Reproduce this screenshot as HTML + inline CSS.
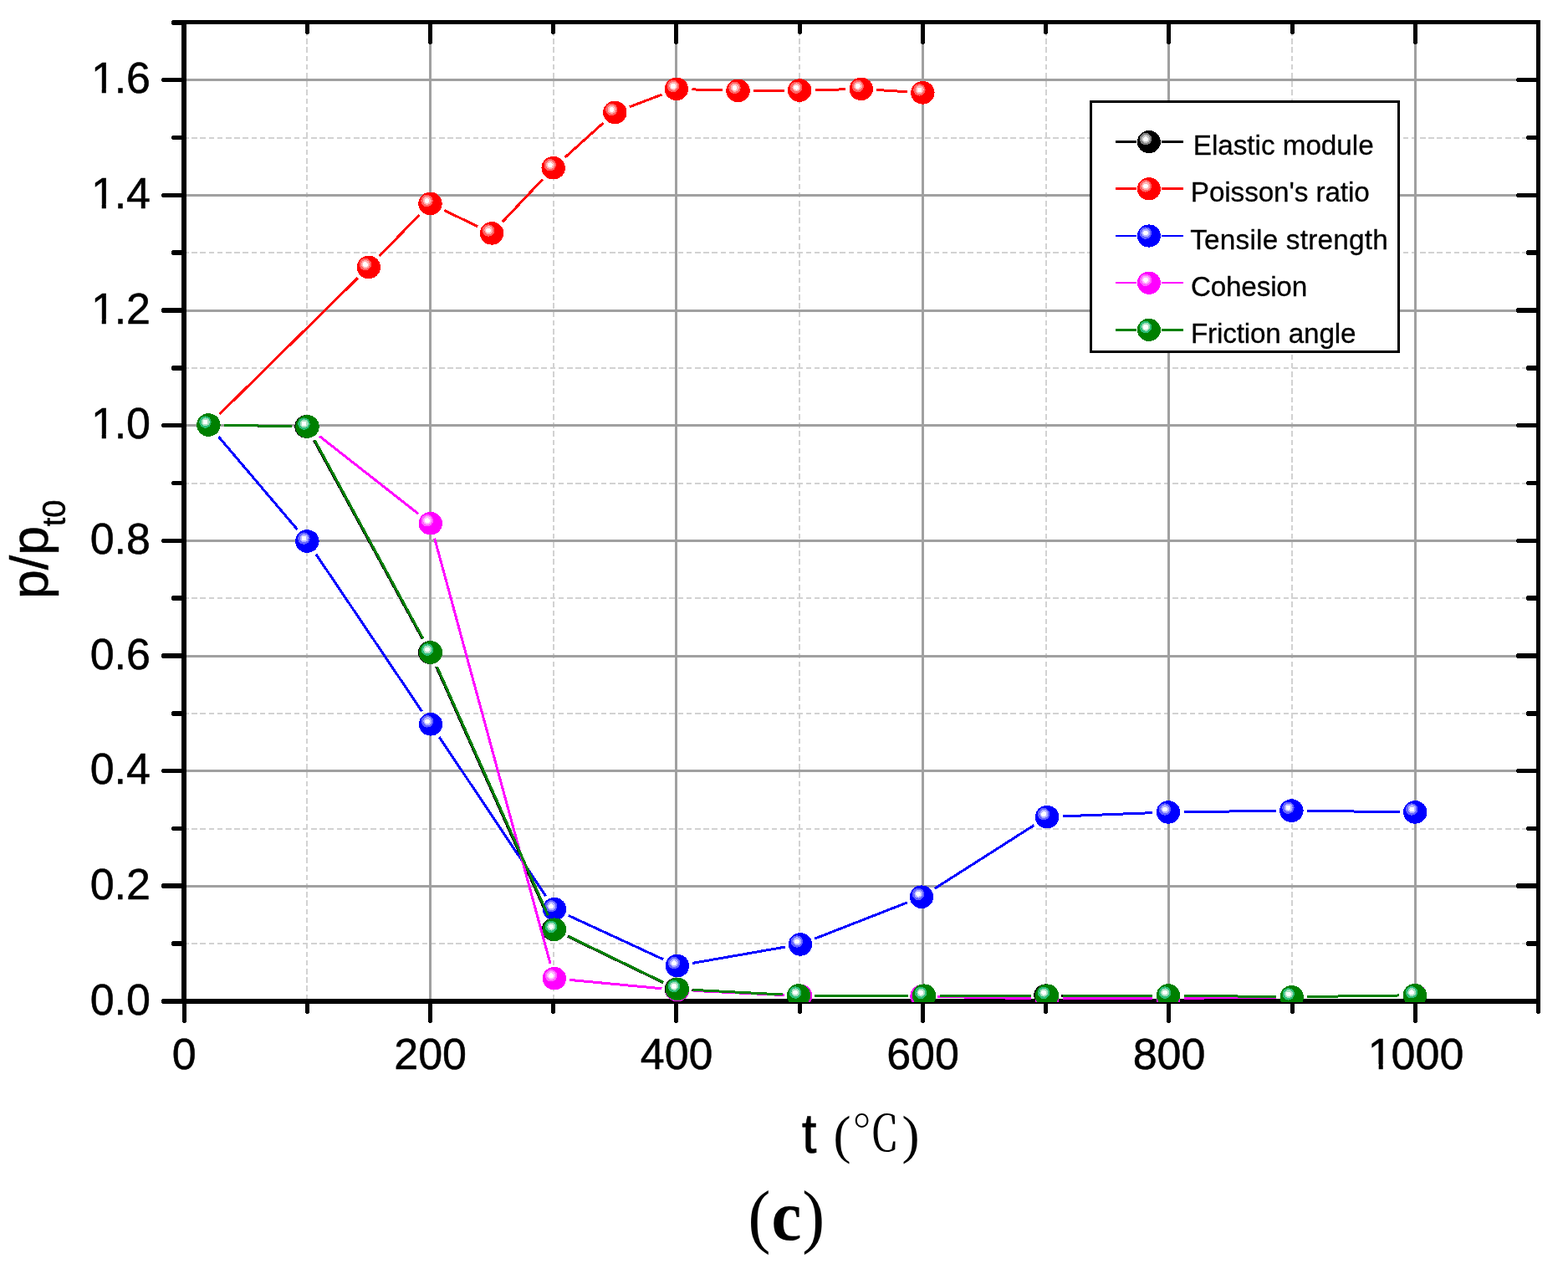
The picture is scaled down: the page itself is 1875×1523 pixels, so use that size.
<!DOCTYPE html>
<html lang="en"><head><meta charset="utf-8"><title>p/pt0 versus t (c)</title>
<style>html,body{margin:0;padding:0;background:#ffffff;}body{width:1875px;height:1523px;overflow:hidden;}svg{display:block;}text{font-family:"Liberation Sans",sans-serif;fill:#000;}.tk{font-size:52px;stroke:#000;stroke-width:0.5px;}.lg{font-size:33.3px;stroke:#000;stroke-width:0.3px;}.ax{stroke:#000;stroke-width:0.5px;}.ser{font-family:"Liberation Serif","Noto Serif CJK SC",serif;}</style></head><body>
<svg width="1875" height="1523" viewBox="0 0 1875 1523">
<rect x="0" y="0" width="1875" height="1523" fill="#ffffff"/>
<defs><clipPath id="plotclip"><rect x="220" y="26" width="1620" height="1172"/></clipPath></defs>
<g shape-rendering="crispEdges" fill="none"><g stroke="#d2d2d2" stroke-width="2" stroke-dasharray="6.6 3.6"><line x1="367" y1="25.7" x2="367" y2="1194"/><line x1="662" y1="25.7" x2="662" y2="1194"/><line x1="956" y1="25.7" x2="956" y2="1194"/><line x1="1251" y1="25.7" x2="1251" y2="1194"/><line x1="1545" y1="25.7" x2="1545" y2="1194"/><line x1="219" y1="1128" x2="1837" y2="1128"/><line x1="219" y1="991" x2="1837" y2="991"/><line x1="219" y1="853" x2="1837" y2="853"/><line x1="219" y1="715" x2="1837" y2="715"/><line x1="219" y1="578" x2="1837" y2="578"/><line x1="219" y1="440" x2="1837" y2="440"/><line x1="219" y1="302" x2="1837" y2="302"/><line x1="219" y1="165" x2="1837" y2="165"/></g><g stroke="#a0a0a0" stroke-width="3"><line x1="514.5" y1="29" x2="514.5" y2="1194"/><line x1="808.5" y1="29" x2="808.5" y2="1194"/><line x1="1103.5" y1="29" x2="1103.5" y2="1194"/><line x1="1397.5" y1="29" x2="1397.5" y2="1194"/><line x1="1692.5" y1="29" x2="1692.5" y2="1194"/><line x1="223" y1="1059.5" x2="1837" y2="1059.5"/><line x1="223" y1="921.5" x2="1837" y2="921.5"/><line x1="223" y1="784.5" x2="1837" y2="784.5"/><line x1="223" y1="646.5" x2="1837" y2="646.5"/><line x1="223" y1="508.5" x2="1837" y2="508.5"/><line x1="223" y1="371.5" x2="1837" y2="371.5"/><line x1="223" y1="233.5" x2="1837" y2="233.5"/><line x1="223" y1="95.5" x2="1837" y2="95.5"/></g></g>
<g shape-rendering="crispEdges" fill="#000000"><rect x="217" y="24" width="6" height="1176"/><rect x="1837" y="24" width="5" height="1176"/><rect x="217" y="24" width="1625" height="5"/><rect x="217" y="1194" width="1625" height="6"/><rect x="194" y="1194" width="25" height="6"/><rect x="193" y="1195" width="2" height="4"/><rect x="206" y="1125" width="13" height="6"/><rect x="205" y="1126" width="2" height="4"/><rect x="1826" y="1125" width="13" height="6"/><rect x="1825" y="1126" width="2" height="4"/><rect x="194" y="1056" width="25" height="6"/><rect x="193" y="1057" width="2" height="4"/><rect x="1814" y="1056" width="25" height="6"/><rect x="1813" y="1057" width="2" height="4"/><rect x="206" y="988" width="13" height="5"/><rect x="205" y="989" width="2" height="3"/><rect x="1826" y="988" width="13" height="5"/><rect x="1825" y="989" width="2" height="3"/><rect x="194" y="919" width="25" height="5"/><rect x="193" y="920" width="2" height="3"/><rect x="1814" y="919" width="25" height="5"/><rect x="1813" y="920" width="2" height="3"/><rect x="206" y="850" width="13" height="6"/><rect x="205" y="851" width="2" height="4"/><rect x="1826" y="850" width="13" height="6"/><rect x="1825" y="851" width="2" height="4"/><rect x="194" y="781" width="25" height="6"/><rect x="193" y="782" width="2" height="4"/><rect x="1814" y="781" width="25" height="6"/><rect x="1813" y="782" width="2" height="4"/><rect x="206" y="712" width="13" height="6"/><rect x="205" y="713" width="2" height="4"/><rect x="1826" y="712" width="13" height="6"/><rect x="1825" y="713" width="2" height="4"/><rect x="194" y="644" width="25" height="5"/><rect x="193" y="645" width="2" height="3"/><rect x="1814" y="644" width="25" height="5"/><rect x="1813" y="645" width="2" height="3"/><rect x="206" y="575" width="13" height="5"/><rect x="205" y="576" width="2" height="3"/><rect x="1826" y="575" width="13" height="5"/><rect x="1825" y="576" width="2" height="3"/><rect x="194" y="506" width="25" height="5"/><rect x="193" y="507" width="2" height="3"/><rect x="1814" y="506" width="25" height="5"/><rect x="1813" y="507" width="2" height="3"/><rect x="206" y="437" width="13" height="6"/><rect x="205" y="438" width="2" height="4"/><rect x="1826" y="437" width="13" height="6"/><rect x="1825" y="438" width="2" height="4"/><rect x="194" y="368" width="25" height="6"/><rect x="193" y="369" width="2" height="4"/><rect x="1814" y="368" width="25" height="6"/><rect x="1813" y="369" width="2" height="4"/><rect x="206" y="299" width="13" height="6"/><rect x="205" y="300" width="2" height="4"/><rect x="1826" y="299" width="13" height="6"/><rect x="1825" y="300" width="2" height="4"/><rect x="194" y="231" width="25" height="5"/><rect x="193" y="232" width="2" height="3"/><rect x="1814" y="231" width="25" height="5"/><rect x="1813" y="232" width="2" height="3"/><rect x="206" y="162" width="13" height="5"/><rect x="205" y="163" width="2" height="3"/><rect x="1826" y="162" width="13" height="5"/><rect x="1825" y="163" width="2" height="3"/><rect x="194" y="93" width="25" height="5"/><rect x="193" y="94" width="2" height="3"/><rect x="1814" y="93" width="25" height="5"/><rect x="1813" y="94" width="2" height="3"/><rect x="206" y="24" width="13" height="6"/><rect x="205" y="25" width="2" height="4"/><rect x="218" y="1198" width="5" height="24"/><rect x="219" y="1198" width="3" height="25"/><rect x="365" y="1198" width="5" height="13"/><rect x="366" y="1198" width="3" height="14"/><rect x="365" y="27" width="5" height="13"/><rect x="366" y="27" width="3" height="14"/><rect x="512" y="1198" width="5" height="24"/><rect x="513" y="1198" width="3" height="25"/><rect x="512" y="27" width="5" height="25"/><rect x="513" y="27" width="3" height="26"/><rect x="659" y="1198" width="5" height="13"/><rect x="660" y="1198" width="3" height="14"/><rect x="659" y="27" width="5" height="13"/><rect x="660" y="27" width="3" height="14"/><rect x="806" y="1198" width="5" height="24"/><rect x="807" y="1198" width="3" height="25"/><rect x="806" y="27" width="5" height="25"/><rect x="807" y="27" width="3" height="26"/><rect x="954" y="1198" width="5" height="13"/><rect x="955" y="1198" width="3" height="14"/><rect x="954" y="27" width="5" height="13"/><rect x="955" y="27" width="3" height="14"/><rect x="1101" y="1198" width="5" height="24"/><rect x="1102" y="1198" width="3" height="25"/><rect x="1101" y="27" width="5" height="25"/><rect x="1102" y="27" width="3" height="26"/><rect x="1248" y="1198" width="5" height="13"/><rect x="1249" y="1198" width="3" height="14"/><rect x="1248" y="27" width="5" height="13"/><rect x="1249" y="27" width="3" height="14"/><rect x="1395" y="1198" width="5" height="24"/><rect x="1396" y="1198" width="3" height="25"/><rect x="1395" y="27" width="5" height="25"/><rect x="1396" y="27" width="3" height="26"/><rect x="1543" y="1198" width="5" height="13"/><rect x="1544" y="1198" width="3" height="14"/><rect x="1543" y="27" width="5" height="13"/><rect x="1544" y="27" width="3" height="14"/><rect x="1690" y="1198" width="5" height="24"/><rect x="1691" y="1198" width="3" height="25"/><rect x="1690" y="27" width="5" height="25"/><rect x="1691" y="27" width="3" height="26"/><rect x="1837" y="1198" width="5" height="13"/><rect x="1838" y="1198" width="3" height="14"/></g>
<g clip-path="url(#plotclip)" shape-rendering="crispEdges"><path d="M268.05 508.32L347.9 509.68M375.42 526.32L505.18 763.68M521.68 796.99L654.32 1094.21M678.64 1119.31L792.16 1174.29M827.47 1183.37L936.48 1189.03M973.65 1190.02L1086.47 1190.18M1123.67 1190.2L1231.8 1190.2M1269 1190.17L1378.4 1190.03M1415.6 1190.23L1526.1 1191.57M1563.3 1191.53L1673.35 1189.97" stroke="#000000" stroke-width="3" fill="none"/><ellipse cx="249.45" cy="508" rx="14.2" ry="13.8" fill="#000000"/><circle cx="245.45" cy="504.6" r="7.2" fill="#808080"/><circle cx="245.75" cy="504.4" r="5" fill="#c4c4c4"/><circle cx="245.55" cy="504.6" r="2.9" fill="#ffffff"/><ellipse cx="366.5" cy="510" rx="14.2" ry="13.8" fill="#000000"/><circle cx="362.5" cy="506.6" r="7.2" fill="#808080"/><circle cx="362.8" cy="506.4" r="5" fill="#c4c4c4"/><circle cx="362.6" cy="506.6" r="2.9" fill="#ffffff"/><ellipse cx="514.1" cy="780" rx="14.2" ry="13.8" fill="#000000"/><circle cx="510.1" cy="776.6" r="7.2" fill="#808080"/><circle cx="510.4" cy="776.4" r="5" fill="#c4c4c4"/><circle cx="510.2" cy="776.6" r="2.9" fill="#ffffff"/><ellipse cx="661.9" cy="1111.2" rx="14.2" ry="13.8" fill="#000000"/><circle cx="657.9" cy="1107.8" r="7.2" fill="#808080"/><circle cx="658.2" cy="1107.6" r="5" fill="#c4c4c4"/><circle cx="658" cy="1107.8" r="2.9" fill="#ffffff"/><ellipse cx="808.9" cy="1182.4" rx="14.2" ry="13.8" fill="#000000"/><circle cx="804.9" cy="1179" r="7.2" fill="#808080"/><circle cx="805.2" cy="1178.8" r="5" fill="#c4c4c4"/><circle cx="805" cy="1179" r="2.9" fill="#ffffff"/><ellipse cx="955.05" cy="1190" rx="14.2" ry="13.8" fill="#000000"/><circle cx="951.05" cy="1186.6" r="7.2" fill="#808080"/><circle cx="951.35" cy="1186.4" r="5" fill="#c4c4c4"/><circle cx="951.15" cy="1186.6" r="2.9" fill="#ffffff"/><ellipse cx="1105.07" cy="1190.2" rx="14.2" ry="13.8" fill="#000000"/><circle cx="1101.07" cy="1186.8" r="7.2" fill="#808080"/><circle cx="1101.37" cy="1186.6" r="5" fill="#c4c4c4"/><circle cx="1101.17" cy="1186.8" r="2.9" fill="#ffffff"/><ellipse cx="1250.4" cy="1190.2" rx="14.2" ry="13.8" fill="#000000"/><circle cx="1246.4" cy="1186.8" r="7.2" fill="#808080"/><circle cx="1246.7" cy="1186.6" r="5" fill="#c4c4c4"/><circle cx="1246.5" cy="1186.8" r="2.9" fill="#ffffff"/><ellipse cx="1397" cy="1190" rx="14.2" ry="13.8" fill="#000000"/><circle cx="1393" cy="1186.6" r="7.2" fill="#808080"/><circle cx="1393.3" cy="1186.4" r="5" fill="#c4c4c4"/><circle cx="1393.1" cy="1186.6" r="2.9" fill="#ffffff"/><ellipse cx="1544.7" cy="1191.8" rx="14.2" ry="13.8" fill="#000000"/><circle cx="1540.7" cy="1188.4" r="7.2" fill="#808080"/><circle cx="1541" cy="1188.2" r="5" fill="#c4c4c4"/><circle cx="1540.8" cy="1188.4" r="2.9" fill="#ffffff"/><ellipse cx="1691.95" cy="1189.7" rx="14.2" ry="13.8" fill="#000000"/><circle cx="1687.95" cy="1186.3" r="7.2" fill="#808080"/><circle cx="1688.25" cy="1186.1" r="5" fill="#c4c4c4"/><circle cx="1688.05" cy="1186.3" r="2.9" fill="#ffffff"/><path d="M262.7 494.95L427.59 332.52M453.77 306.1L501.52 256.76M531.21 251.46L571.31 270.78M600.82 265.31L648.93 214.24M675.51 188.26L721.47 146.9M752.68 127.83L791.53 113M827.5 106.88L863.93 107.86M901.12 108.3L937.54 108.16M974.73 107.66L1011.16 106.8M1048.32 107.5L1084.79 109.71" stroke="#ff0000" stroke-width="3" fill="none"/><ellipse cx="249.45" cy="508" rx="14.2" ry="13.8" fill="#ff0000"/><circle cx="245.45" cy="504.6" r="7.2" fill="#ff6464"/><circle cx="245.75" cy="504.4" r="5" fill="#ffb4b4"/><circle cx="245.55" cy="504.6" r="2.9" fill="#ffffff"/><ellipse cx="440.84" cy="319.47" rx="14.2" ry="13.8" fill="#ff0000"/><circle cx="436.84" cy="316.07" r="7.2" fill="#ff6464"/><circle cx="437.14" cy="315.87" r="5" fill="#ffb4b4"/><circle cx="436.94" cy="316.07" r="2.9" fill="#ffffff"/><ellipse cx="514.45" cy="243.39" rx="14.2" ry="13.8" fill="#ff0000"/><circle cx="510.45" cy="239.99" r="7.2" fill="#ff6464"/><circle cx="510.75" cy="239.79" r="5" fill="#ffb4b4"/><circle cx="510.55" cy="239.99" r="2.9" fill="#ffffff"/><ellipse cx="588.07" cy="278.85" rx="14.2" ry="13.8" fill="#ff0000"/><circle cx="584.07" cy="275.45" r="7.2" fill="#ff6464"/><circle cx="584.37" cy="275.25" r="5" fill="#ffb4b4"/><circle cx="584.17" cy="275.45" r="2.9" fill="#ffffff"/><ellipse cx="661.68" cy="200.7" rx="14.2" ry="13.8" fill="#ff0000"/><circle cx="657.68" cy="197.3" r="7.2" fill="#ff6464"/><circle cx="657.98" cy="197.1" r="5" fill="#ffb4b4"/><circle cx="657.78" cy="197.3" r="2.9" fill="#ffffff"/><ellipse cx="735.3" cy="134.46" rx="14.2" ry="13.8" fill="#ff0000"/><circle cx="731.3" cy="131.06" r="7.2" fill="#ff6464"/><circle cx="731.6" cy="130.86" r="5" fill="#ffb4b4"/><circle cx="731.4" cy="131.06" r="2.9" fill="#ffffff"/><ellipse cx="808.91" cy="106.37" rx="14.2" ry="13.8" fill="#ff0000"/><circle cx="804.91" cy="102.97" r="7.2" fill="#ff6464"/><circle cx="805.21" cy="102.77" r="5" fill="#ffb4b4"/><circle cx="805.01" cy="102.97" r="2.9" fill="#ffffff"/><ellipse cx="882.52" cy="108.37" rx="14.2" ry="13.8" fill="#ff0000"/><circle cx="878.52" cy="104.97" r="7.2" fill="#ff6464"/><circle cx="878.82" cy="104.77" r="5" fill="#ffb4b4"/><circle cx="878.62" cy="104.97" r="2.9" fill="#ffffff"/><ellipse cx="956.14" cy="108.09" rx="14.2" ry="13.8" fill="#ff0000"/><circle cx="952.14" cy="104.69" r="7.2" fill="#ff6464"/><circle cx="952.44" cy="104.49" r="5" fill="#ffb4b4"/><circle cx="952.24" cy="104.69" r="2.9" fill="#ffffff"/><ellipse cx="1029.75" cy="106.37" rx="14.2" ry="13.8" fill="#ff0000"/><circle cx="1025.75" cy="102.97" r="7.2" fill="#ff6464"/><circle cx="1026.05" cy="102.77" r="5" fill="#ffb4b4"/><circle cx="1025.85" cy="102.97" r="2.9" fill="#ffffff"/><ellipse cx="1103.36" cy="110.84" rx="14.2" ry="13.8" fill="#ff0000"/><circle cx="1099.36" cy="107.44" r="7.2" fill="#ff6464"/><circle cx="1099.66" cy="107.24" r="5" fill="#ffb4b4"/><circle cx="1099.46" cy="107.44" r="2.9" fill="#ffffff"/><path d="M261.48 522.18L355.37 632.82M377.8 662.42L504.6 850.38M525.35 881.25L652.65 1071.25M679.88 1094.5L793.02 1146.8M828.22 1151.4L938.68 1132.1M974.32 1122.13L1084.73 1078.97M1117.74 1062.21L1236.41 986.59M1270.69 975.87L1378.41 971.63M1415.6 970.67L1525.8 969.33M1563 969.33L1673.6 970.67" stroke="#0000ff" stroke-width="3" fill="none"/><ellipse cx="249.45" cy="508" rx="14.2" ry="13.8" fill="#0000ff"/><circle cx="245.45" cy="504.6" r="7.2" fill="#6464ff"/><circle cx="245.75" cy="504.4" r="5" fill="#b4b4ff"/><circle cx="245.55" cy="504.6" r="2.9" fill="#ffffff"/><ellipse cx="367.4" cy="647" rx="14.2" ry="13.8" fill="#0000ff"/><circle cx="363.4" cy="643.6" r="7.2" fill="#6464ff"/><circle cx="363.7" cy="643.4" r="5" fill="#b4b4ff"/><circle cx="363.5" cy="643.6" r="2.9" fill="#ffffff"/><ellipse cx="515" cy="865.8" rx="14.2" ry="13.8" fill="#0000ff"/><circle cx="511" cy="862.4" r="7.2" fill="#6464ff"/><circle cx="511.3" cy="862.2" r="5" fill="#b4b4ff"/><circle cx="511.1" cy="862.4" r="2.9" fill="#ffffff"/><ellipse cx="663" cy="1086.7" rx="14.2" ry="13.8" fill="#0000ff"/><circle cx="659" cy="1083.3" r="7.2" fill="#6464ff"/><circle cx="659.3" cy="1083.1" r="5" fill="#b4b4ff"/><circle cx="659.1" cy="1083.3" r="2.9" fill="#ffffff"/><ellipse cx="809.9" cy="1154.6" rx="14.2" ry="13.8" fill="#0000ff"/><circle cx="805.9" cy="1151.2" r="7.2" fill="#6464ff"/><circle cx="806.2" cy="1151" r="5" fill="#b4b4ff"/><circle cx="806" cy="1151.2" r="2.9" fill="#ffffff"/><ellipse cx="957" cy="1128.9" rx="14.2" ry="13.8" fill="#0000ff"/><circle cx="953" cy="1125.5" r="7.2" fill="#6464ff"/><circle cx="953.3" cy="1125.3" r="5" fill="#b4b4ff"/><circle cx="953.1" cy="1125.5" r="2.9" fill="#ffffff"/><ellipse cx="1102.05" cy="1072.2" rx="14.2" ry="13.8" fill="#0000ff"/><circle cx="1098.05" cy="1068.8" r="7.2" fill="#6464ff"/><circle cx="1098.35" cy="1068.6" r="5" fill="#b4b4ff"/><circle cx="1098.15" cy="1068.8" r="2.9" fill="#ffffff"/><ellipse cx="1252.1" cy="976.6" rx="14.2" ry="13.8" fill="#0000ff"/><circle cx="1248.1" cy="973.2" r="7.2" fill="#6464ff"/><circle cx="1248.4" cy="973" r="5" fill="#b4b4ff"/><circle cx="1248.2" cy="973.2" r="2.9" fill="#ffffff"/><ellipse cx="1397" cy="970.9" rx="14.2" ry="13.8" fill="#0000ff"/><circle cx="1393" cy="967.5" r="7.2" fill="#6464ff"/><circle cx="1393.3" cy="967.3" r="5" fill="#b4b4ff"/><circle cx="1393.1" cy="967.5" r="2.9" fill="#ffffff"/><ellipse cx="1544.4" cy="969.1" rx="14.2" ry="13.8" fill="#0000ff"/><circle cx="1540.4" cy="965.7" r="7.2" fill="#6464ff"/><circle cx="1540.7" cy="965.5" r="5" fill="#b4b4ff"/><circle cx="1540.5" cy="965.7" r="2.9" fill="#ffffff"/><ellipse cx="1692.2" cy="970.9" rx="14.2" ry="13.8" fill="#0000ff"/><circle cx="1688.2" cy="967.5" r="7.2" fill="#6464ff"/><circle cx="1688.5" cy="967.3" r="5" fill="#b4b4ff"/><circle cx="1688.3" cy="967.5" r="2.9" fill="#ffffff"/><path d="M268.05 508.32L348.9 509.68M382.13 521.49L500.17 614.21M519.69 643.65L658.01 1151.75M681.42 1171.44L791.48 1181.76M828.58 1184.38L938.42 1189.62M975.6 1190.56L1083.9 1190.94M1121.1 1191.37L1233.4 1193.63M1270.6 1193.94L1378.4 1193.56M1415.6 1193.29L1526.1 1192.01M1563.3 1191.53L1673.4 1189.97" stroke="#ff00ff" stroke-width="3" fill="none"/><ellipse cx="249.45" cy="508" rx="14.2" ry="13.8" fill="#ff00ff"/><circle cx="245.45" cy="504.6" r="7.2" fill="#ff64ff"/><circle cx="245.75" cy="504.4" r="5" fill="#ffb4ff"/><circle cx="245.55" cy="504.6" r="2.9" fill="#ffffff"/><ellipse cx="367.5" cy="510" rx="14.2" ry="13.8" fill="#ff00ff"/><circle cx="363.5" cy="506.6" r="7.2" fill="#ff64ff"/><circle cx="363.8" cy="506.4" r="5" fill="#ffb4ff"/><circle cx="363.6" cy="506.6" r="2.9" fill="#ffffff"/><ellipse cx="514.8" cy="625.7" rx="14.2" ry="13.8" fill="#ff00ff"/><circle cx="510.8" cy="622.3" r="7.2" fill="#ff64ff"/><circle cx="511.1" cy="622.1" r="5" fill="#ffb4ff"/><circle cx="510.9" cy="622.3" r="2.9" fill="#ffffff"/><ellipse cx="662.9" cy="1169.7" rx="14.2" ry="13.8" fill="#ff00ff"/><circle cx="658.9" cy="1166.3" r="7.2" fill="#ff64ff"/><circle cx="659.2" cy="1166.1" r="5" fill="#ffb4ff"/><circle cx="659" cy="1166.3" r="2.9" fill="#ffffff"/><ellipse cx="810" cy="1183.5" rx="14.2" ry="13.8" fill="#ff00ff"/><circle cx="806" cy="1180.1" r="7.2" fill="#ff64ff"/><circle cx="806.3" cy="1179.9" r="5" fill="#ffb4ff"/><circle cx="806.1" cy="1180.1" r="2.9" fill="#ffffff"/><ellipse cx="957" cy="1190.5" rx="14.2" ry="13.8" fill="#ff00ff"/><circle cx="953" cy="1187.1" r="7.2" fill="#ff64ff"/><circle cx="953.3" cy="1186.9" r="5" fill="#ffb4ff"/><circle cx="953.1" cy="1187.1" r="2.9" fill="#ffffff"/><ellipse cx="1102.5" cy="1191" rx="14.2" ry="13.8" fill="#ff00ff"/><circle cx="1098.5" cy="1187.6" r="7.2" fill="#ff64ff"/><circle cx="1098.8" cy="1187.4" r="5" fill="#ffb4ff"/><circle cx="1098.6" cy="1187.6" r="2.9" fill="#ffffff"/><ellipse cx="1252" cy="1194" rx="14.2" ry="13.8" fill="#ff00ff"/><circle cx="1248" cy="1190.6" r="7.2" fill="#ff64ff"/><circle cx="1248.3" cy="1190.4" r="5" fill="#ffb4ff"/><circle cx="1248.1" cy="1190.6" r="2.9" fill="#ffffff"/><ellipse cx="1397" cy="1193.5" rx="14.2" ry="13.8" fill="#ff00ff"/><circle cx="1393" cy="1190.1" r="7.2" fill="#ff64ff"/><circle cx="1393.3" cy="1189.9" r="5" fill="#ffb4ff"/><circle cx="1393.1" cy="1190.1" r="2.9" fill="#ffffff"/><ellipse cx="1544.7" cy="1191.8" rx="14.2" ry="13.8" fill="#ff00ff"/><circle cx="1540.7" cy="1188.4" r="7.2" fill="#ff64ff"/><circle cx="1541" cy="1188.2" r="5" fill="#ffb4ff"/><circle cx="1540.8" cy="1188.4" r="2.9" fill="#ffffff"/><ellipse cx="1692" cy="1189.7" rx="14.2" ry="13.8" fill="#ff00ff"/><circle cx="1688" cy="1186.3" r="7.2" fill="#ff64ff"/><circle cx="1688.3" cy="1186.1" r="5" fill="#ffb4ff"/><circle cx="1688.1" cy="1186.3" r="2.9" fill="#ffffff"/><path d="M268.05 508.32L348.9 509.68M376.42 526.32L506.08 763.68M522.59 796.98L655.41 1094.22M679.74 1119.31L793.16 1174.29M828.47 1183.37L936.48 1189.03M973.65 1190.02L1086.47 1190.18M1123.67 1190.2L1233.4 1190.2M1270.6 1190.17L1378.4 1190.03M1415.6 1190.23L1526.1 1191.57M1563.3 1191.53L1673.35 1189.97" stroke="#008000" stroke-width="3" fill="none"/><ellipse cx="249.45" cy="508" rx="14.2" ry="13.8" fill="#008000"/><circle cx="245.45" cy="504.6" r="7.2" fill="#2dbe78"/><circle cx="245.75" cy="504.4" r="5" fill="#a8e0c0"/><circle cx="245.55" cy="504.6" r="2.9" fill="#ffffff"/><ellipse cx="367.5" cy="510" rx="14.2" ry="13.8" fill="#008000"/><circle cx="363.5" cy="506.6" r="7.2" fill="#2dbe78"/><circle cx="363.8" cy="506.4" r="5" fill="#a8e0c0"/><circle cx="363.6" cy="506.6" r="2.9" fill="#ffffff"/><ellipse cx="515" cy="780" rx="14.2" ry="13.8" fill="#008000"/><circle cx="511" cy="776.6" r="7.2" fill="#2dbe78"/><circle cx="511.3" cy="776.4" r="5" fill="#a8e0c0"/><circle cx="511.1" cy="776.6" r="2.9" fill="#ffffff"/><ellipse cx="663" cy="1111.2" rx="14.2" ry="13.8" fill="#008000"/><circle cx="659" cy="1107.8" r="7.2" fill="#2dbe78"/><circle cx="659.3" cy="1107.6" r="5" fill="#a8e0c0"/><circle cx="659.1" cy="1107.8" r="2.9" fill="#ffffff"/><ellipse cx="809.9" cy="1182.4" rx="14.2" ry="13.8" fill="#008000"/><circle cx="805.9" cy="1179" r="7.2" fill="#2dbe78"/><circle cx="806.2" cy="1178.8" r="5" fill="#a8e0c0"/><circle cx="806" cy="1179" r="2.9" fill="#ffffff"/><ellipse cx="955.05" cy="1190" rx="14.2" ry="13.8" fill="#008000"/><circle cx="951.05" cy="1186.6" r="7.2" fill="#2dbe78"/><circle cx="951.35" cy="1186.4" r="5" fill="#a8e0c0"/><circle cx="951.15" cy="1186.6" r="2.9" fill="#ffffff"/><ellipse cx="1105.07" cy="1190.2" rx="14.2" ry="13.8" fill="#008000"/><circle cx="1101.07" cy="1186.8" r="7.2" fill="#2dbe78"/><circle cx="1101.37" cy="1186.6" r="5" fill="#a8e0c0"/><circle cx="1101.17" cy="1186.8" r="2.9" fill="#ffffff"/><ellipse cx="1252" cy="1190.2" rx="14.2" ry="13.8" fill="#008000"/><circle cx="1248" cy="1186.8" r="7.2" fill="#2dbe78"/><circle cx="1248.3" cy="1186.6" r="5" fill="#a8e0c0"/><circle cx="1248.1" cy="1186.8" r="2.9" fill="#ffffff"/><ellipse cx="1397" cy="1190" rx="14.2" ry="13.8" fill="#008000"/><circle cx="1393" cy="1186.6" r="7.2" fill="#2dbe78"/><circle cx="1393.3" cy="1186.4" r="5" fill="#a8e0c0"/><circle cx="1393.1" cy="1186.6" r="2.9" fill="#ffffff"/><ellipse cx="1544.7" cy="1191.8" rx="14.2" ry="13.8" fill="#008000"/><circle cx="1540.7" cy="1188.4" r="7.2" fill="#2dbe78"/><circle cx="1541" cy="1188.2" r="5" fill="#a8e0c0"/><circle cx="1540.8" cy="1188.4" r="2.9" fill="#ffffff"/><ellipse cx="1691.95" cy="1189.7" rx="14.2" ry="13.8" fill="#008000"/><circle cx="1687.95" cy="1186.3" r="7.2" fill="#2dbe78"/><circle cx="1688.25" cy="1186.1" r="5" fill="#a8e0c0"/><circle cx="1688.05" cy="1186.3" r="2.9" fill="#ffffff"/></g>
<g><rect x="1304.5" y="121.5" width="368" height="299" fill="#ffffff" stroke="#000000" stroke-width="3" shape-rendering="crispEdges"/><g shape-rendering="crispEdges"><path d="M1334 169.5H1359M1389 169.5H1415" stroke="#000000" stroke-width="3" fill="none"/><ellipse cx="1373.9" cy="169.6" rx="14" ry="13.6" fill="#000000"/><circle cx="1369.9" cy="166.2" r="7.2" fill="#808080"/><circle cx="1370.2" cy="166" r="5" fill="#c4c4c4"/><circle cx="1370" cy="166.2" r="2.9" fill="#ffffff"/></g><text class="lg" x="1426.8" y="184.8" letter-spacing="-0.05">Elastic module</text><g shape-rendering="crispEdges"><path d="M1334 225.5H1359M1389 225.5H1415" stroke="#ff0000" stroke-width="3" fill="none"/><ellipse cx="1373.9" cy="225.8" rx="14" ry="13.6" fill="#ff0000"/><circle cx="1369.9" cy="222.4" r="7.2" fill="#ff6464"/><circle cx="1370.2" cy="222.2" r="5" fill="#ffb4b4"/><circle cx="1370" cy="222.4" r="2.9" fill="#ffffff"/></g><text class="lg" x="1423.8" y="241.4" letter-spacing="-0.11">Poisson&#39;s ratio</text><g shape-rendering="crispEdges"><path d="M1334 282H1359M1389 282H1415" stroke="#0000ff" stroke-width="2" fill="none"/><ellipse cx="1373.9" cy="282" rx="14" ry="13.6" fill="#0000ff"/><circle cx="1369.9" cy="278.6" r="7.2" fill="#6464ff"/><circle cx="1370.2" cy="278.4" r="5" fill="#b4b4ff"/><circle cx="1370" cy="278.6" r="2.9" fill="#ffffff"/></g><text class="lg" x="1423.2" y="297.8" letter-spacing="0.22">Tensile strength</text><g shape-rendering="crispEdges"><path d="M1334 338H1359M1389 338H1415" stroke="#ff00ff" stroke-width="2" fill="none"/><ellipse cx="1373.9" cy="338.2" rx="14" ry="13.6" fill="#ff00ff"/><circle cx="1369.9" cy="334.8" r="7.2" fill="#ff64ff"/><circle cx="1370.2" cy="334.6" r="5" fill="#ffb4ff"/><circle cx="1370" cy="334.8" r="2.9" fill="#ffffff"/></g><text class="lg" x="1423.9" y="353.6" letter-spacing="-0.2">Cohesion</text><g shape-rendering="crispEdges"><path d="M1334 394.5H1359M1389 394.5H1415" stroke="#008000" stroke-width="3" fill="none"/><ellipse cx="1373.9" cy="394.4" rx="14" ry="13.6" fill="#008000"/><circle cx="1369.9" cy="391" r="7.2" fill="#2dbe78"/><circle cx="1370.2" cy="390.8" r="5" fill="#a8e0c0"/><circle cx="1370" cy="391" r="2.9" fill="#ffffff"/></g><text class="lg" x="1423.9" y="409.6" letter-spacing="-0.17">Friction angle</text></g>
<g><text class="tk" x="107.71" y="1212.75">0.0</text><text class="tk" x="107.71" y="1075.09">0.2</text><text class="tk" x="107.71" y="937.43">0.4</text><text class="tk" x="107.71" y="799.77">0.6</text><text class="tk" x="107.71" y="662.11">0.8</text><text class="tk" x="107.71" y="524.45"><tspan dx="1.2">1</tspan><tspan dx="-1.2">.0</tspan></text><path d="M111.37 518.97H121.74V525.95H111.37ZM126.83 518.97H136.59V525.95H126.83Z" fill="#ffffff"/><text class="tk" x="107.71" y="386.79"><tspan dx="1.2">1</tspan><tspan dx="-1.2">.2</tspan></text><path d="M111.37 381.31H121.74V388.29H111.37ZM126.83 381.31H136.59V388.29H126.83Z" fill="#ffffff"/><text class="tk" x="107.71" y="249.13"><tspan dx="1.2">1</tspan><tspan dx="-1.2">.4</tspan></text><path d="M111.37 243.65H121.74V250.63H111.37ZM126.83 243.65H136.59V250.63H126.83Z" fill="#ffffff"/><text class="tk" x="107.71" y="111.47"><tspan dx="1.2">1</tspan><tspan dx="-1.2">.6</tspan></text><path d="M111.37 105.99H121.74V112.97H111.37ZM126.83 105.99H136.59V112.97H126.83Z" fill="#ffffff"/><text class="tk" x="205.74" y="1277.6">0</text><text class="tk" x="471.27" y="1277.6">200</text><text class="tk" x="765.73" y="1277.6">400</text><text class="tk" x="1060.18" y="1277.6">600</text><text class="tk" x="1354.64" y="1277.6">800</text><text class="tk" x="1634.63" y="1277.6"><tspan dx="1.2">1</tspan><tspan dx="-1.2">000</tspan></text><path d="M1638.29 1272.12H1648.66V1279.1H1638.29ZM1653.75 1272.12H1663.51V1279.1H1653.75Z" fill="#ffffff"/></g>
<text class="ax" transform="translate(57 716) rotate(-90)" font-size="62.7px">p/p<tspan font-size="38px" dx="-0.5" dy="20.9">t0</tspan></text>
<text class="ax" transform="translate(958.8 1378.2) scale(1 1.05)" font-size="64px">t</text>
<text class="ser" x="996.6" y="1378.2" font-size="63px">(<tspan font-size="57.5px" dx="1" dy="-2">℃</tspan><tspan dx="2.4" dy="2">)</tspan></text>
<text class="ser" transform="translate(894.5 1482) scale(0.94 0.985)" font-size="86px">(<tspan font-weight="bold" dx="1.2">c</tspan><tspan dx="1">)</tspan></text>
</svg></body></html>
